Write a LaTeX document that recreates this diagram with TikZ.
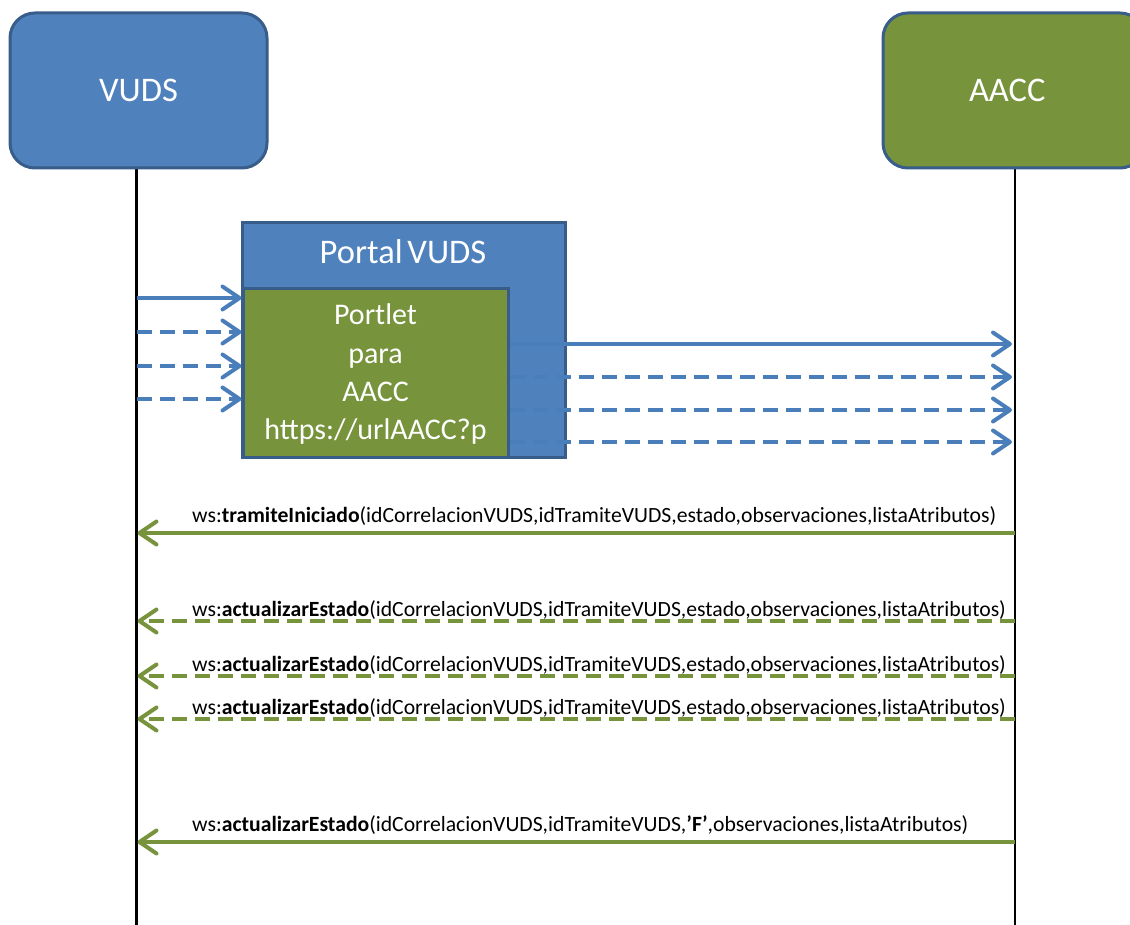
\documentclass[tikz,border=0pt]{standalone}
\usepackage{fontspec}
\setmainfont{Carlito}
\usetikzlibrary{arrows.meta}
\definecolor{vblue}{HTML}{4F81BD}
\definecolor{vblueline}{HTML}{385D8A}
\definecolor{vgreen}{HTML}{77933C}
\definecolor{varrow}{HTML}{4A7EBB}
\begin{document}
\begin{tikzpicture}[x=1pt,y=-1pt,
  actor/.style={draw=vblueline, line width=3pt, rounded corners=25pt, text=white,
    font=\fontsize{34.5}{40}\selectfont, inner sep=0pt, minimum height=155pt},
  lifeline/.style={black, line width=2.5pt},
  bmsg/.style={varrow, line width=4pt, -{Straight Barb[length=17pt,width=23pt,round]}},
  gmsg/.style={vgreen, line width=4pt, -{Straight Barb[length=17pt,width=23pt,round]}},
  dsh/.style={dash pattern=on 15pt off 8pt},
  lbl/.style={anchor=base west, font=\fontsize{21.7}{24}\selectfont, inner sep=0pt},
  box/.style={draw=vblueline, line width=3pt, inner sep=0pt},
  ptl/.style={text=white, font=\fontsize{30}{36}\selectfont, anchor=base, inner sep=0pt}
]
\clip (0,0) rectangle (1130,925);
\fill[white] (0,0) rectangle (1130,925);
% lifelines
\coordinate (vtop) at (136.5,168);
\coordinate (vend) at (136.5,925);
\coordinate (atop) at (1015,168);
\coordinate (aend) at (1015,925);
\draw[lifeline] (vtop) -- (vend);
\draw[lifeline] (atop) -- (aend);
% actors
\node[actor, fill=vblue, minimum width=257pt] (vuds) at (138.5,90.5) {VUDS};
\node[actor, fill=vgreen, minimum width=262pt, text width=254pt, align=left] (aacc) at (1014,90.5) {\hspace*{82pt}AACC};
% portal
\node[box, fill=vblue, minimum width=323pt, minimum height=234pt] (portal) at (403.5,340) {};
\node[text=white, font=\fontsize{34.5}{40}\selectfont, anchor=base, inner sep=0pt] (ptitle) at (403,264) {Portal\hspace{-3pt} VUDS};
\node[box, fill=vgreen, minimum width=265pt, minimum height=168pt] (portlet) at (375.5,373) {};
\node[ptl] (pt1) at (375.5,325) {Portlet};
\node[ptl] (pt2) at (375.5,363) {para};
\node[ptl] (pt3) at (375.5,401) {AACC};
\node[ptl] (pt4) at (375.5,439) {https://urlAACC?p};
% blue messages in
\foreach \y/\s [count=\i] in {298/solid,332/dsh,366/dsh,399/dsh}{
  \coordinate (vin\i) at (136.5,\y);
  \draw[bmsg,\s] (vin\i) -- (vin\i -| portlet.west);
}
% blue messages out
\foreach \y/\s [count=\i] in {344/solid,377/dsh,410/dsh,442/dsh}{
  \coordinate (aout\i) at (1012,\y);
  \draw[bmsg,\s] (aout\i -| portlet.east) -- (aout\i);
}
% green messages
\coordinate (g1a) at (1015,533);
\coordinate (g1v) at (137.5,533);
\draw[gmsg] (g1a) -- (g1v);
\node[lbl] (l1) at (192,522) {ws:\textbf{tramiteIniciado}(idCorrelacionVUDS,idTramiteVUDS,estado,observaciones,listaAtributos)};
\foreach \y [count=\i] in {621,676,719}{
  \coordinate (ga\i) at (1015,\y);
  \coordinate (gv\i) at (137.5,\y);
  \draw[gmsg,dsh] (ga\i) -- (gv\i);
  \node[lbl] (la\i) at (192,\y-5) {ws:\textbf{actualizarEstado}(idCorrelacionVUDS,idTramiteVUDS,estado,observaciones,listaAtributos)};
}
\coordinate (g5a) at (1015,842);
\coordinate (g5v) at (137.5,842);
\draw[gmsg] (g5a) -- (g5v);
\node[lbl] (l5) at (192,831) {ws:\textbf{actualizarEstado}(idCorrelacionVUDS,idTramiteVUDS,\textbf{'F'},observaciones,listaAtributos)};
\end{tikzpicture}
\end{document}
